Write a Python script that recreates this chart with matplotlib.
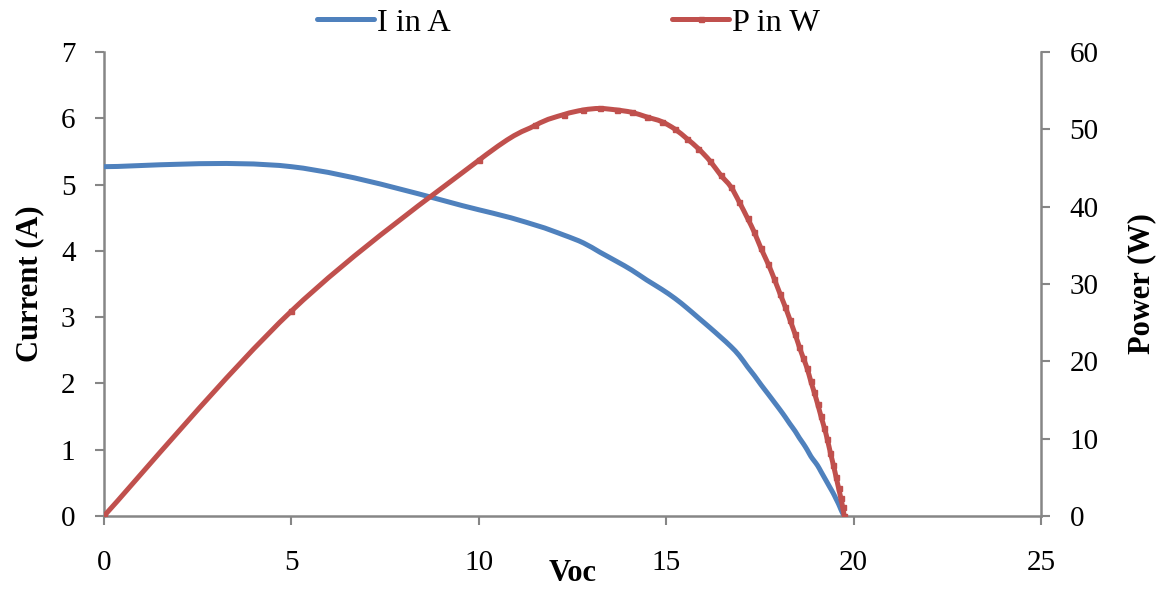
import numpy as np
import matplotlib
matplotlib.use("Agg")
import matplotlib.pyplot as plt
from matplotlib.path import Path
from matplotlib.patches import PathPatch
from matplotlib.lines import Line2D

# ---- data ----
voc = [0, 5, 10, 11.5, 12.26, 12.79, 13.23, 13.68, 14.08, 14.48, 14.88, 15.24,
       15.55, 15.86, 16.17, 16.45, 16.72, 16.95, 17.17, 17.35, 17.53, 17.72,
       17.88, 18.04, 18.18, 18.30, 18.44, 18.55, 18.66, 18.76, 18.86, 18.95,
       19.04, 19.13, 19.22, 19.30, 19.38, 19.46, 19.53, 19.60, 19.66, 19.71, 19.75]
current = [5.27, 5.27, 4.62, 4.39, 4.24, 4.12, 3.98, 3.84, 3.71, 3.56, 3.42, 3.28,
           3.14, 2.99, 2.84, 2.70, 2.56, 2.42, 2.25, 2.12, 1.98, 1.84,
           1.72, 1.60, 1.49, 1.39, 1.28, 1.18, 1.09, 1.00, 0.90, 0.83,
           0.76, 0.67, 0.58, 0.50, 0.42, 0.34, 0.26, 0.18, 0.10, 0.04, 0.0]
power = [0, 26.5, 46.0, 50.5, 51.9, 52.5, 52.7, 52.5, 52.2, 51.6, 51.0, 50.0,
         48.8, 47.5, 45.9, 44.1, 42.6, 40.6, 38.5, 36.7, 34.6, 32.6,
         30.7, 28.7, 27.0, 25.4, 23.5, 21.9, 20.4, 19.1, 17.4, 16.0,
         14.5, 12.9, 11.4, 9.9, 8.2, 6.6, 5.1, 3.6, 2.3, 1.1, 0.0]
x_ticks = [0, 5, 10, 15, 20, 25]
left_ticks = [0, 1, 2, 3, 4, 5, 6, 7]
right_ticks = [0, 10, 20, 30, 40, 50, 60]

BLUE = "#4F81BD"
RED = "#C0504D"
GRAY = "#868686"

plt.rcParams['font.family'] = ['Liberation Serif', 'DejaVu Serif']


def smooth_path(xs, ys):
    """Excel-style smoothed line: cubic Bezier segments through the data points."""
    pts = list(zip(xs, ys))
    verts = [pts[0]]
    codes = [Path.MOVETO]
    n = len(pts)
    for i in range(n - 1):
        p0 = pts[i - 1] if i > 0 else pts[i]
        p1 = pts[i]
        p2 = pts[i + 1]
        p3 = pts[i + 2] if i + 2 < n else pts[i + 1]
        c1 = (p1[0] + (p2[0] - p0[0]) / 6.0, p1[1] + (p2[1] - p0[1]) / 6.0)
        c2 = (p2[0] - (p3[0] - p1[0]) / 6.0, p2[1] - (p3[1] - p1[1]) / 6.0)
        verts += [c1, c2, p2]
        codes += [Path.CURVE4] * 3
    return Path(verts, codes)


fig = plt.figure(figsize=(11.59, 5.89), dpi=100)
ax = fig.add_axes([104 / 1159, 1 - 516 / 589, (1041 - 104) / 1159, (516 - 52) / 589])
ax2 = ax.twinx()

ax.set_xlim(0, 25)
ax.set_ylim(0, 7)
ax2.set_ylim(0, 60)
ax.set_xticks(x_ticks)
ax.set_yticks(left_ticks)
ax2.set_yticks(right_ticks)

for a in (ax, ax2):
    for s in a.spines.values():
        s.set_color(GRAY)
        s.set_linewidth(1.8)
    a.spines['top'].set_visible(False)
    a.tick_params(direction='out', length=6.5, width=1.5, color=GRAY,
                  labelsize=21, pad=6)
ax.spines['right'].set_visible(False)
ax2.spines['left'].set_visible(False)
ax2.spines['bottom'].set_visible(False)
ax.tick_params(axis='x', pad=18)
ax.tick_params(axis='y', pad=14)
ax2.tick_params(axis='y', pad=14)

# Current (smoothed line, no markers)
ax.add_patch(PathPatch(smooth_path(voc, current), facecolor='none', edgecolor=BLUE,
                       lw=3.6, capstyle='round', joinstyle='round', zorder=3))
# Power (smoothed line with small square markers)
ax2.add_patch(PathPatch(smooth_path(voc, power), facecolor='none', edgecolor=RED,
                        lw=3.6, capstyle='round', joinstyle='round', zorder=3))
ax2.plot(voc, power, linestyle='none', marker='s', markersize=3.6, color=RED, zorder=4)

ax.set_xlabel('Voc', fontsize=22, fontweight='bold', labelpad=-12.5)
ax.set_ylabel('Current (A)', fontsize=22, fontweight='bold', labelpad=12)
ax2.set_ylabel('Power (W)', fontsize=22, fontweight='bold', labelpad=20.5)

handles = [Line2D([], [], color=BLUE, lw=3.6, solid_capstyle='round'),
           Line2D([], [], color=RED, lw=3.6, marker='s', markersize=3.6, solid_capstyle='round')]
fig.legend(handles, ['I in A', 'P in W'], loc='upper center', bbox_to_anchor=(0.4905, 1.036),
           ncol=2, frameon=False, fontsize=23.3, handlelength=1.75, handletextpad=0.1,
           columnspacing=6.85)

fig.savefig('out.png', dpi=100, facecolor='white')
